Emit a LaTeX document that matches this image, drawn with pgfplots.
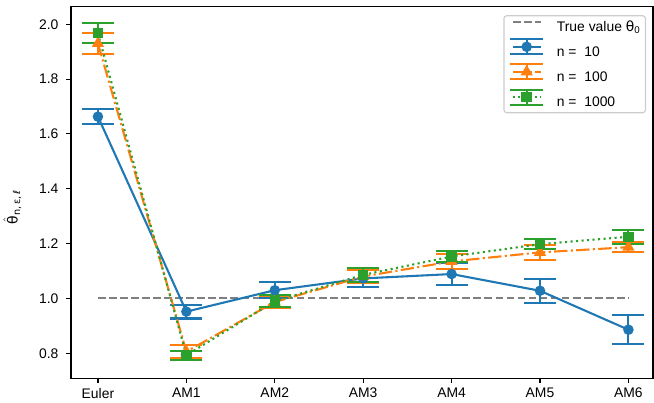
\documentclass[border=0pt]{standalone}
\usepackage{fontspec}
\setmainfont{Liberation Sans}
\newfontfamily\dejavu{DejaVu Sans}
\usepackage{pgfplots}
\pgfplotsset{compat=1.18}
\definecolor{tblue}{HTML}{1F77B4}
\definecolor{torange}{HTML}{FF7F0E}
\definecolor{tgreen}{HTML}{2CA02C}
\definecolor{lgray}{HTML}{CCCCCC}
\definecolor{dgray}{HTML}{808080}
\newcommand{\thetahat}{$\hat{\hbox{\dejavu θ}}$}
\pgfplotsset{
  ebleg/.style={legend image code/.code={
    \begin{scope}[yshift=3.5pt]
    \draw[##1, solid, mark=none, line width=1.5pt] (0pt,-5.4pt) -- (24pt,-5.4pt) (0pt,5.4pt) -- (24pt,5.4pt) (12pt,-5.4pt) -- (12pt,5.4pt);
    \draw[##1, mark repeat=2, mark phase=2] plot coordinates {(2pt,0pt) (12pt,0pt) (22pt,0pt)};
    \end{scope}}},
  lnleg/.style={legend image code/.code={
    \draw[##1] (2pt,3.5pt) -- (22pt,3.5pt);}},
  ebstyle/.style={error bars/.cd, y dir=both, y explicit,
    error bar style={solid, line width=1.5pt},
    error mark options={rotate=90, solid, line width=1.5pt, mark size=11.5pt}},
}
\begin{document}
\begin{tikzpicture}
\begin{axis}[
  name=ax,
  scale only axis, width=419pt, height=267.8pt,
  xmin=-0.305, xmax=6.278, ymin=0.709, ymax=2.0656,
  xtick={0,...,6}, xticklabels={Euler,AM1,AM2,AM3,AM4,AM5,AM6},
  ytick={0.8,1.0,1.2,1.4,1.6,1.8,2.0},
  /pgf/number format/assume math mode=true,
  y tick label style={/pgf/number format/fixed, /pgf/number format/fixed zerofill, /pgf/number format/precision=1, xshift=-2pt},
  tick align=outside, major tick length=3.5pt,
  tick style={black, line width=0.8pt},
  xtick pos=bottom, ytick pos=left,
  axis line style={line width=0.8pt},
  tick label style={font=\fontsize{10}{12}\selectfont},
  ylabel={{\dejavu\thetahat\textsubscript{n,\,ε,\,ℓ}}},
  ylabel style={font=\fontsize{10}{12}\selectfont, at={([xshift=-6pt]ticklabel cs:0.46)}},
  legend cell align=left,
  legend style={at={(0.988,0.976)}, anchor=north east, draw=lgray, line width=0.8pt, rounded corners=2pt, fill=white,
    font=\fontsize{10}{12}\selectfont, inner xsep=3.6pt, inner ysep=1.6pt, row sep=2.3pt,
    nodes={inner sep=0pt, text height=9.65pt, text depth=2.65pt},
    /tikz/every odd column/.append style={column sep=9pt}},
]
\addplot[dgray, line width=1.5pt, dash pattern=on 5.55pt off 2.4pt, lnleg] coordinates {(0,1) (6,1)};
\addlegendentry{True value {\dejavu θ}\textsubscript{0}}

\addplot[tblue, line width=1.5pt, mark=*, mark size=3pt, mark options={solid}, ebleg, ebstyle] coordinates {
(0,1.663) +- (0,0.028)
(1,0.952) +- (0,0.025)
(2,1.030) +- (0,0.030)
(3,1.073) +- (0,0.030)
(4,1.089) +- (0,0.041)
(5,1.028) +- (0,0.044)
(6,0.886) +- (0,0.053)
};
\addlegendentry{n = \ 10}

\addplot[torange, line width=1.5pt, dash pattern=on 9.6pt off 2.4pt on 1.5pt off 2.4pt, mark=triangle*, mark size=3.6pt, mark options={solid}, ebleg, ebstyle] coordinates {
(0,1.930) +- (0,0.037)
(1,0.806) +- (0,0.024)
(2,0.987) +- (0,0.023)
(3,1.080) +- (0,0.025)
(4,1.135) +- (0,0.028)
(5,1.168) +- (0,0.027)
(6,1.187) +- (0,0.019)
};
\addlegendentry{n = \ 100}

\addplot[tgreen, line width=1.5pt, dash pattern=on 1.5pt off 2.475pt, mark=square*, mark size=3pt, mark options={solid}, ebleg, ebstyle] coordinates {
(0,1.967) +- (0,0.037)
(1,0.793) +- (0,0.017)
(2,0.990) +- (0,0.021)
(3,1.086) +- (0,0.025)
(4,1.153) +- (0,0.020)
(5,1.198) +- (0,0.018)
(6,1.225) +- (0,0.025)
};
\addlegendentry{n = \ 1000}
\end{axis}
\pgfresetboundingbox
\path ([xshift=-51.1pt,yshift=-17.8pt]ax.south west) rectangle ([xshift=0.72pt,yshift=4.5pt]ax.north east);
\end{tikzpicture}
\end{document}
